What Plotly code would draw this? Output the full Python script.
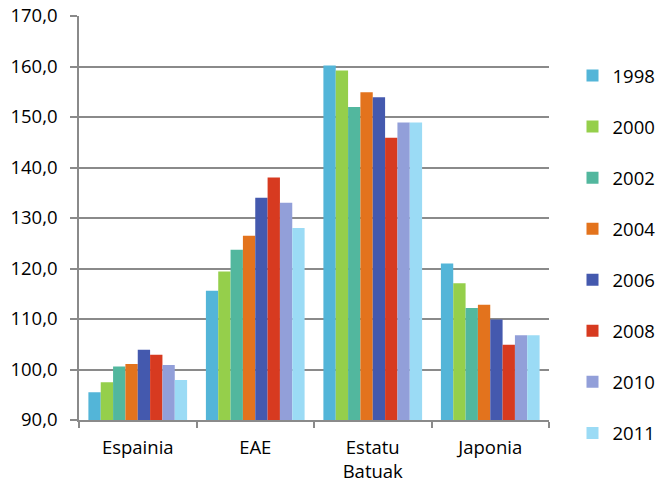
import plotly.graph_objects as go

categories = ["Espainia", "EAE", "Estatu<br>Batuak", "Japonia"]
years = ["1998", "2000", "2002", "2004", "2006", "2008", "2010", "2011"]

v1998 = [95.5, 115.6, 160.2, 121.0]
v2000 = [97.5, 119.4, 159.2, 117.1]
v2002 = [100.6, 123.7, 152.0, 112.2]
v2004 = [101.1, 126.5, 154.9, 112.8]
v2006 = [103.9, 134.0, 153.9, 109.9]
v2008 = [102.9, 138.0, 145.9, 104.9]
v2010 = [100.9, 133.0, 148.9, 106.8]
v2011 = [97.9, 128.0, 148.9, 106.8]

series = [v1998, v2000, v2002, v2004, v2006, v2008, v2010, v2011]
colors = ["#53b5d8", "#95cf4b", "#52b79e", "#e3731d", "#4459ae", "#d73a20", "#929fd9", "#9bdbf5"]

FONT = "Open Sans"
GRID = "#8a8a8a"
TXT = "#000000"
FS = 18.5

fig = go.Figure()
for name, vals, col in zip(years, series, colors):
    fig.add_trace(go.Bar(
        x=categories, y=vals, name=name, legendgroup=name,
        marker=dict(color=col, line=dict(width=0)),
    ))

fig.update_layout(
    width=658, height=487, autosize=False,
    margin=dict(l=79, r=109, t=16, b=67, autoexpand=False),
    paper_bgcolor="white", plot_bgcolor="white",
    barmode="group", bargap=0.16, bargroupgap=0,
    separators=", ",
    font=dict(family=FONT, size=FS, color=TXT),
    legend=dict(
        x=1.05, xanchor="left", y=1.0 - 41/404, yanchor="top",
        traceorder="grouped", tracegroupgap=24,
        font=dict(family=FONT, size=FS, color=TXT),
        bgcolor="rgba(0,0,0,0)", borderwidth=0,
    ),
    showlegend=True,
)

fig.update_yaxes(
    range=[90, 170], dtick=10, tickformat=".1f",
    showgrid=True, gridcolor=GRID, gridwidth=1.5,
    showline=True, linecolor=GRID, linewidth=1.5,
    ticks="outside", ticklen=7, tickcolor=GRID, tickwidth=1.5,
    ticklabelstandoff=9,
    zeroline=False, tickfont=dict(family=FONT, size=FS, color=TXT),
)
fig.update_xaxes(
    showline=True, linecolor=GRID, linewidth=1.5,
    ticks="outside", ticklen=6, tickcolor=GRID, tickwidth=1.5,
    tickson="boundaries", showgrid=False, ticklabelstandoff=10,
    tickfont=dict(family=FONT, size=FS, color=TXT),
)

fig.write_html(
    "out.html",
    config={"displayModeBar": False},
    post_script="document.body.style.margin='0';document.body.style.overflow='hidden';",
)
